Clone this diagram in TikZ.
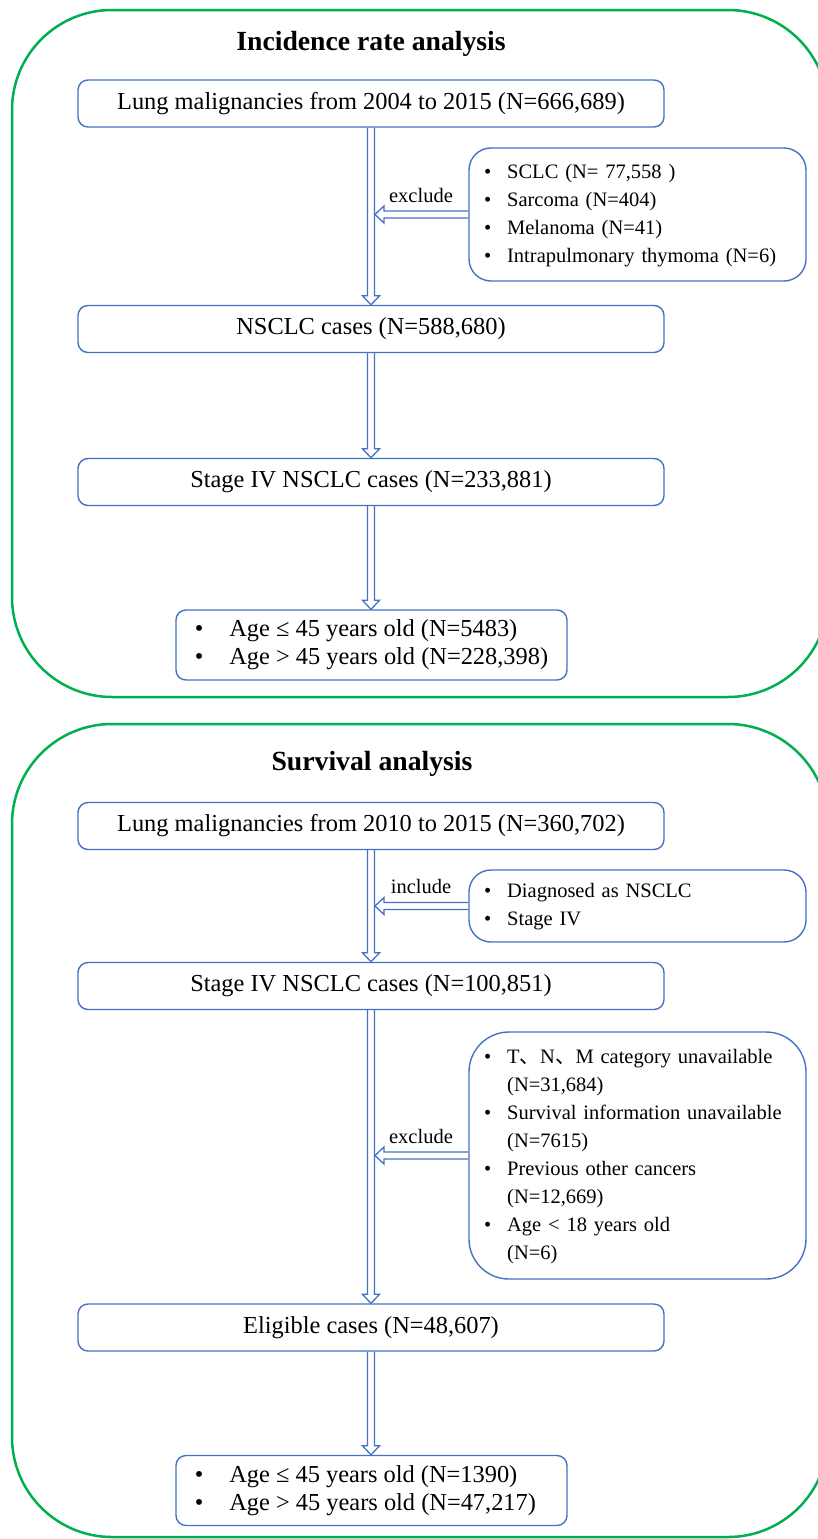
\documentclass[tikz,border=0pt]{standalone}
\usepackage{fontspec}
\setmainfont{Liberation Serif}
\newfontfamily\cjk{Noto Sans CJK SC}
\usetikzlibrary{calc}
\definecolor{bl}{HTML}{4472C4}
\definecolor{gr}{HTML}{00B050}
\newcommand\vblock[2]{\draw[blk] let \p1=(#1.south), \p2=(#2.north) in
  (\x1-3.5pt,\y1) -- (\x1-3.5pt,\y2+9pt) -- (\x1-8.5pt,\y2+9pt) -- (\x1,\y2)
  -- (\x1+8.5pt,\y2+9pt) -- (\x1+3.5pt,\y2+9pt) -- (\x1+3.5pt,\y1);}
\newcommand\hblock[2]{\draw[blk] let \p1=(#1.west), \p2=(#2) in
  (\x1,\y1+3.5pt) -- (\x2+9pt,\y1+3.5pt) -- (\x2+9pt,\y1+8.5pt) -- (\x2,\y1)
  -- (\x2+9pt,\y1-8.5pt) -- (\x2+9pt,\y1-3.5pt) -- (\x1,\y1-3.5pt);}
\newcommand\bul{\textbullet}
\begin{document}
\begin{tikzpicture}[x=1pt,y=-1pt,
  frame/.style={draw=gr, line width=2.5pt, rounded corners=100pt},
  box/.style={draw=bl, line width=1.4pt, rounded corners=10pt, minimum width=586pt,
    minimum height=47pt, inner sep=0pt, font=\fontsize{24.4}{28}\selectfont},
  listbox/.style={draw=bl, line width=1.4pt, rounded corners=22pt, inner xsep=15pt,
    inner ysep=0pt, align=left, font=\fontsize{20.5}{28}\selectfont},
  agebox/.style={draw=bl, line width=1.4pt, rounded corners=10pt, minimum width=391pt,
    minimum height=70pt, inner sep=0pt, font=\fontsize{24.4}{28}\selectfont},
  ttl/.style={font=\fontsize{27.7}{32}\selectfont\bfseries},
  lbl/.style={font=\fontsize{20.5}{24}\selectfont},
  blk/.style={draw=bl, line width=1.3pt, line join=miter}]
\useasboundingbox (0,0) rectangle (817,1539);
\fill[white] (0,0) rectangle (817,1539);
% frames
\draw[frame] (12,10) rectangle (828,697);
\draw[frame] (12,724) rectangle (828,1537);
% ---------- Incidence ----------
\node[ttl] (t1) at (371,44) {Incidence rate analysis};
\node[box] (a1) at (371,103.5) {Lung malignancies from 2004 to 2015 (N=666,689)};
\node[listbox, minimum width=337pt, minimum height=133pt, text width=307pt] (e1) at (637.5,214.5)
  {\begin{tabular}{@{}l@{\hspace{16pt}}l@{}}
   \bul & SCLC (N= 77,558 )\\
   \bul & Sarcoma (N=404)\\
   \bul & Melanoma (N=41)\\
   \bul & Intrapulmonary thymoma (N=6)
   \end{tabular}};
\node[box] (a2) at (371,329) {NSCLC cases (N=588,680)};
\node[box] (a3) at (371,482) {Stage IV NSCLC cases (N=233,881)};
\node[agebox] (a4) at (371.5,645)
  {\begin{tabular}{@{}l@{\hspace{26pt}}l@{}}
   \bul & Age ≤ 45 years old (N=5483)\\
   \bul & Age > 45 years old (N=228,398)
   \end{tabular}};
\coordinate (c1) at (375,214.5);
\vblock{a1}{a2}
\hblock{e1}{c1}
\node[lbl, anchor=south] (x1) at (421,206) {exclude};
\vblock{a2}{a3}
\vblock{a3}{a4}
% ---------- Survival ----------
\node[ttl] (t2) at (372,764) {Survival analysis};
\node[box] (b1) at (371,826) {Lung malignancies from 2010 to 2015 (N=360,702)};
\node[listbox, minimum width=337pt, minimum height=72pt, text width=307pt] (i1) at (637.5,906)
  {\begin{tabular}{@{}l@{\hspace{16pt}}l@{}}
   \bul & Diagnosed as NSCLC\\
   \bul & Stage IV
   \end{tabular}};
\node[box] (b2) at (371,986) {Stage IV NSCLC cases (N=100,851)};
\node[listbox, rounded corners=40pt, minimum width=337pt, minimum height=247pt, text width=307pt] (e2) at (637.5,1155.5)
  {\begin{tabular}{@{}l@{\hspace{16pt}}l@{}}
   \bul & T{\cjk 、}N{\cjk 、}M category unavailable\\
        & (N=31,684)\\
   \bul & Survival information unavailable\\
        & (N=7615)\\
   \bul & Previous other cancers\\
        & (N=12,669)\\
   \bul & Age < 18 years old\\
        & (N=6)
   \end{tabular}};
\node[box] (b3) at (371,1327.5) {Eligible cases (N=48,607)};
\node[agebox] (b4) at (371.5,1490.5)
  {\begin{tabular}{@{}l@{\hspace{26pt}}l@{}}
   \bul & Age ≤ 45 years old (N=1390)\\
   \bul & Age > 45 years old (N=47,217)\hphantom{2}
   \end{tabular}};
\coordinate (c2) at (375,906);
\coordinate (c3) at (375,1155.5);
\vblock{b1}{b2}
\hblock{i1}{c2}
\node[lbl, anchor=south] (x2) at (421,897) {include};
\vblock{b2}{b3}
\hblock{e2}{c3}
\node[lbl, anchor=south] (x3) at (421,1147) {exclude};
\vblock{b3}{b4}
\end{tikzpicture}
\end{document}
